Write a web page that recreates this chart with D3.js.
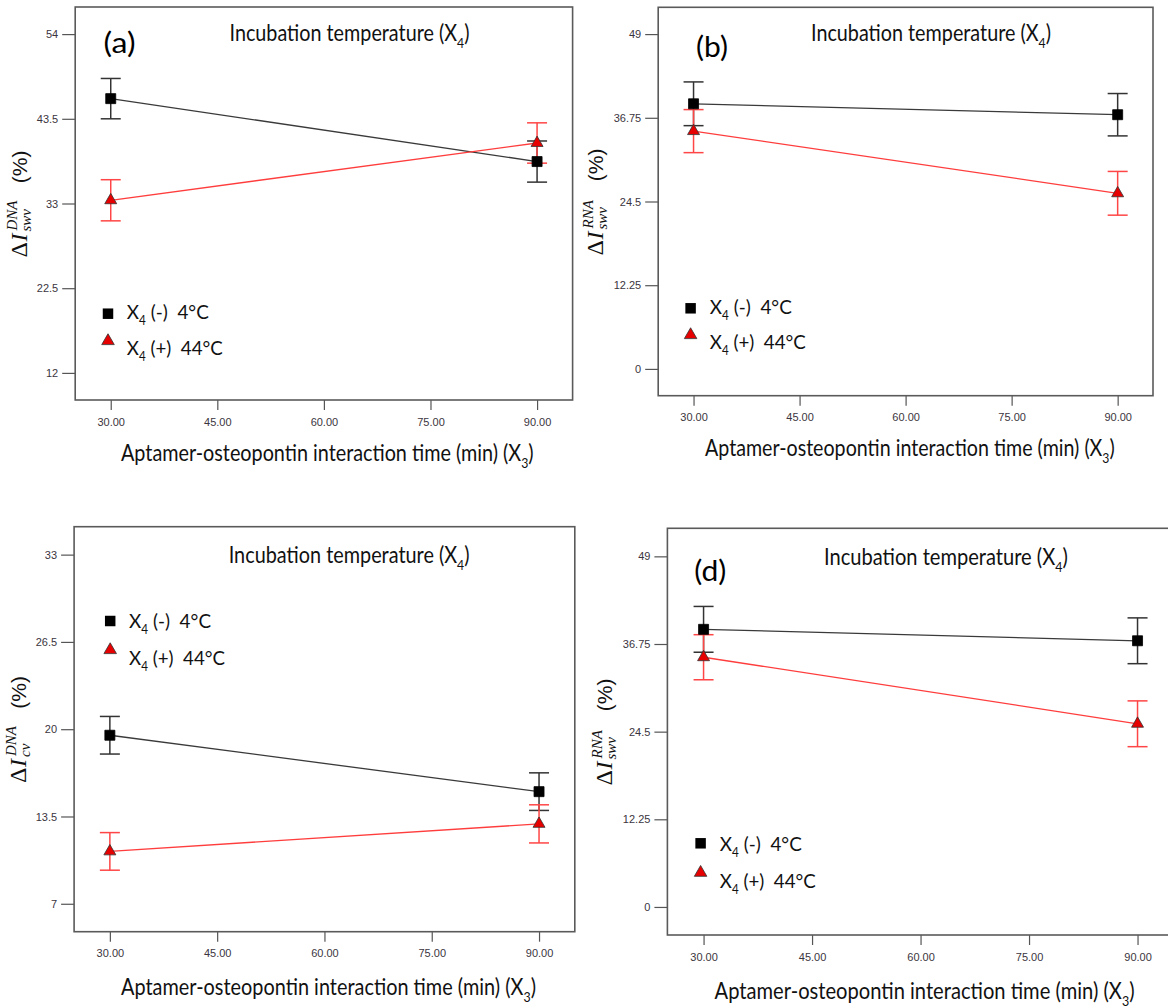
<!DOCTYPE html>
<html>
<head>
<meta charset="utf-8">
<script src="https://cdn.jsdelivr.net/npm/d3@7"></script>
<style>
  body { margin: 0; background: #fff; }
  svg { display: block; }
  text { white-space: pre; }
</style>
</head>
<body>
<div id="chart"></div>
<script>
// interaction time levels and x ticks
var times = [30, 90];
var xTicks = [30, 45, 60, 75, 90];

// y ticks per panel
var yTicksA = [12, 22.5, 33, 43.5, 54];
var yTicksB = [0, 12.25, 24.5, 36.75, 49];
var yTicksC = [7, 13.5, 20, 26.5, 33];
var yTicksD = [0, 12.25, 24.5, 36.75, 49];

// means: X4 (-) 4°C and X4 (+) 44°C, with error half-widths
var lowA = [46.0, 38.2], highA = [33.4, 40.5];
var lowErrA = [2.5, 2.55], highErrA = [2.55, 2.5];
var lowB = [38.8, 37.2], highB = [34.8, 25.7];
var lowErrB = [3.2, 3.1], highErrB = [3.15, 3.2];
var lowC = [19.55, 15.35], highC = [10.9, 12.95];
var lowErrC = [1.4, 1.4], highErrC = [1.4, 1.42];
var lowD = [38.8, 37.2], highD = [34.9, 25.6];
var lowErrD = [3.2, 3.2], highErrD = [3.15, 3.2];

var legendLow = [["X"], ["4", 1], [" (-)  4°C"]];
var legendHigh = [["X"], ["4", 1], [" (+)  44°C"]];
var titleParts = [["Incubation temperature (X"], ["4", 1], [")"]];
var xLabelParts = [["Aptamer-osteopontin interaction time (min) (X"], ["3", 1], [")"]];

var panels = [
  {box: [75.2, 7, 572.6, 400], ticks: yTicksA, low: lowA, high: highA, lowErr: lowErrA, highErr: highErrA,
   sup: "DNA", sub: "swv", tag: "(a)", tagPos: [103.5, 53, 32],
   title: [229.5, 41.5, 240], xlab: [121, 461.5, 413], ylab: [27, 203.5],
   leg: [108, 313.7, 341, 126.8, 319.3, 355]},
  {box: [658.2, 7.3, 1153, 395.7], ticks: yTicksB, low: lowB, high: highB, lowErr: lowErrB, highErr: highErrB,
   sup: "RNA", sub: "swv", tag: "(b)", tagPos: [696, 57, 32],
   title: [811, 41.5, 240], xlab: [705, 456, 410], ylab: [603, 201.5],
   leg: [690.6, 308.3, 335, 709.8, 314.5, 349.5]},
  {box: [74.1, 526.7, 574.8, 931.7], ticks: yTicksC, low: lowC, high: highC, lowErr: lowErrC, highErr: highErrC,
   sup: "DNA", sub: "cv", tag: null,
   title: [228.7, 563, 241], xlab: [121, 995, 415], ylab: [26, 729],
   leg: [110.2, 621, 650, 129, 628, 665]},
  {box: [667.4, 528.3, 1173.7, 935], ticks: yTicksD, low: lowD, high: highD, lowErr: lowErrD, highErr: highErrD,
   sup: "RNA", sub: "swv", tag: "(d)", tagPos: [694.3, 581, 32],
   title: [824, 565, 244], xlab: [714.6, 999, 420], ylab: [612, 731.5],
   leg: [700.6, 843.3, 872.7, 719.8, 851.5, 888]}
];

var W = 1168, H = 1008;
var sansUI = "Lato, 'Open Sans', sans-serif";
var tickFont = "'Liberation Sans Narrow', 'Arial Narrow', 'Liberation Sans', sans-serif";
var mathFont = "'Liberation Serif', 'DejaVu Serif', serif";
var blackLine = "#3a3a3a", redLine = "#ff3d3d", redFill = "#e60000";

var svg = d3.select("#chart").append("svg")
    .attr("width", W)
    .attr("height", H);

// text with subscripts
function rich(sel, parts, size) {
  var shift = 0;
  parts.forEach(function(p) {
    var isSub = !!p[1];
    var dy = isSub ? size * 0.3 : -shift;
    sel.append("tspan")
        .attr("dy", dy)
        .attr("font-size", isSub ? size * 0.62 : size)
        .text(p[0]);
    shift = isSub ? size * 0.3 : 0;
  });
  return sel;
}

// squeeze text horizontally to a target width
function fit(t, x, w) {
  var bw = t.node().getBBox().width;
  t.attr("transform", "translate(" + x + ",0) scale(" + (w / bw) + ",1)");
}

panels.forEach(function(p) {
  var L = p.box[0], T = p.box[1], R = p.box[2], B = p.box[3];
  var g = svg.append("g");

  var step = p.ticks[1] - p.ticks[0];
  var pad = step * 0.32;
  var y = d3.scaleLinear()
      .domain([p.ticks[0] - pad, p.ticks[p.ticks.length - 1] + pad])
      .range([B, T]);
  var x = d3.scaleLinear()
      .domain([25, 95])
      .range([L, R]);

  // axes
  var xa = g.append("g")
      .attr("transform", "translate(0," + B + ")")
      .call(d3.axisBottom(x).tickValues(xTicks).tickSize(10).tickPadding(8).tickFormat(d3.format(".2f")));
  var ya = g.append("g")
      .attr("transform", "translate(" + L + ",0)")
      .call(d3.axisLeft(y).tickValues(p.ticks).tickSize(13).tickPadding(4).tickFormat(function(d) { return d; }));
  [xa, ya].forEach(function(a) {
    a.select(".domain").remove();
    a.selectAll(".tick line").attr("stroke", "#555").attr("stroke-width", 1.2);
    a.selectAll(".tick text")
        .attr("fill", "#3b3540")
        .attr("font-family", tickFont)
        .attr("font-size", 11);
  });

  // frame
  g.append("rect")
      .attr("x", L).attr("y", T)
      .attr("width", R - L).attr("height", B - T)
      .attr("fill", "none")
      .attr("stroke", "#5a5a5a")
      .attr("stroke-width", 1.6);

  var series = [
    {vals: p.low, err: p.lowErr, line: blackLine, bar: "#333", sym: d3.symbolSquare, size: 100, fill: "#000", stroke: "#000"},
    {vals: p.high, err: p.highErr, line: redLine, bar: "#ff4545", sym: d3.symbolTriangle, size: 62, fill: redFill, stroke: "#333"}
  ];

  var line = d3.line()
      .x(function(d, i) { return x(times[i]); })
      .y(function(d) { return y(d); });

  series.forEach(function(s) {
    g.append("path")
        .attr("d", line(s.vals))
        .attr("fill", "none")
        .attr("stroke", s.line)
        .attr("stroke-width", 1.3);
  });

  series.forEach(function(s) {
    s.vals.forEach(function(v, i) {
      var cx = x(times[i]);
      var e = s.err[i];
      var eb = g.append("g").attr("stroke", s.bar).attr("stroke-width", 1.5);
      eb.append("line").attr("x1", cx).attr("x2", cx).attr("y1", y(v + e)).attr("y2", y(v - e));
      eb.append("line").attr("x1", cx - 10).attr("x2", cx + 10).attr("y1", y(v + e)).attr("y2", y(v + e));
      eb.append("line").attr("x1", cx - 10).attr("x2", cx + 10).attr("y1", y(v - e)).attr("y2", y(v - e));
    });
  });

  series.forEach(function(s) {
    g.selectAll(null)
        .data(s.vals)
        .enter()
        .append("path")
        .attr("d", d3.symbol().type(s.sym).size(s.size))
        .attr("transform", function(d, i) { return "translate(" + x(times[i]) + "," + y(d) + ")"; })
        .attr("fill", s.fill)
        .attr("stroke", s.stroke)
        .attr("stroke-width", 0.8);
  });

  // title
  var t = g.append("text").attr("x", 0).attr("y", p.title[1])
      .attr("font-family", sansUI).attr("fill", "#111");
  rich(t, titleParts, 23);
  fit(t, p.title[0], p.title[2]);

  // x axis label
  var xl = g.append("text").attr("x", 0).attr("y", p.xlab[1])
      .attr("font-family", sansUI).attr("fill", "#111");
  rich(xl, xLabelParts, 23);
  fit(xl, p.xlab[0], p.xlab[2]);

  // panel tag
  if (p.tag) {
    var tg = g.append("text").attr("x", 0).attr("y", p.tagPos[1])
        .attr("font-family", sansUI).attr("font-size", 28).attr("fill", "#000")
        .text(p.tag);
    fit(tg, p.tagPos[0], p.tagPos[2]);
  }

  // legend
  var lg = p.leg;
  g.append("path")
      .attr("d", d3.symbol().type(d3.symbolSquare).size(110))
      .attr("transform", "translate(" + lg[0] + "," + lg[1] + ")")
      .attr("fill", "#000");
  g.append("path")
      .attr("d", d3.symbol().type(d3.symbolTriangle).size(68))
      .attr("transform", "translate(" + lg[0] + "," + lg[2] + ")")
      .attr("fill", redFill)
      .attr("stroke", "#333")
      .attr("stroke-width", 0.8);
  var l1 = g.append("text").attr("x", 0).attr("y", lg[4])
      .attr("font-family", sansUI).attr("fill", "#111");
  rich(l1, legendLow, 20);
  fit(l1, lg[3], 82);
  var l2 = g.append("text").attr("x", 0).attr("y", lg[5])
      .attr("font-family", sansUI).attr("fill", "#111");
  rich(l2, legendHigh, 20);
  fit(l2, lg[3], 96);

  // y axis label: ΔI with sup/sub, then (%)
  var yl = g.append("g")
      .attr("transform", "translate(" + p.ylab[0] + "," + p.ylab[1] + ") rotate(-90)")
      .attr("fill", "#111");
  yl.append("text").attr("x", -54).attr("y", 0)
      .attr("font-family", mathFont).attr("font-size", 24).text("Δ");
  yl.append("text").attr("x", -38).attr("y", 0)
      .attr("font-family", mathFont).attr("font-size", 24).attr("font-style", "italic").text("I");
  yl.append("text").attr("x", -27).attr("y", -10)
      .attr("font-family", mathFont).attr("font-size", 15).attr("font-style", "italic").text(p.sup);
  yl.append("text").attr("x", -28).attr("y", 4)
      .attr("font-family", mathFont).attr("font-size", 15).attr("font-style", "italic").text(p.sub);
  yl.append("text").attr("x", 53).attr("y", 0).attr("text-anchor", "end")
      .attr("font-family", "'Liberation Sans', Arial, sans-serif").attr("font-size", 21).text("(%)");
});
</script>
</body>
</html>
